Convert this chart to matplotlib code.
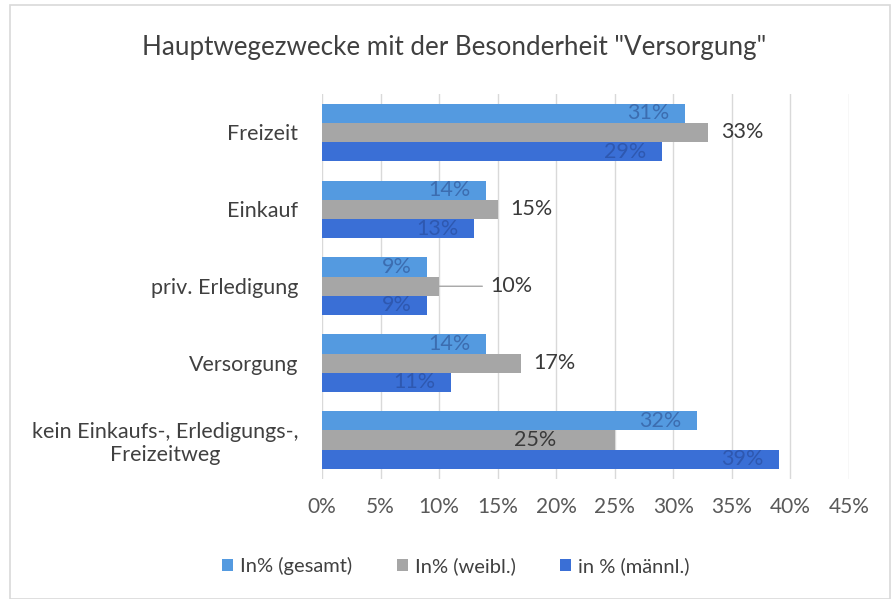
import matplotlib
matplotlib.use("Agg")
import matplotlib.pyplot as plt
from matplotlib.patches import Rectangle
import numpy as np

plt.rcParams['font.family'] = ['Lato', 'DejaVu Sans']

categories = ["Freizeit", "Einkauf", "priv. Erledigung", "Versorgung",
              "kein Einkaufs-, Erledigungs-,\nFreizeitweg"]
series_names = ["In% (gesamt)", "In% (weibl.)", "in % (männl.)"]
gesamt = [31, 14, 9, 14, 32]
weibl = [33, 15, 10, 17, 25]
maennl = [29, 13, 9, 11, 39]
xticks = [0, 5, 10, 15, 20, 25, 30, 35, 40, 45]

colors = ["#549ae0", "#a6a6a6", "#3a6fd6"]
label_colors = ["#3c6db0", "#3a3a3a", "#2e58b0"]

fig = plt.figure(figsize=(8.96, 5.99), dpi=100)
fig.patches.append(Rectangle((10/896, 0), 880/896, 1 - 5/599, transform=fig.transFigure,
                             fill=False, edgecolor="#d9d9d9", linewidth=1.2))
ax = fig.add_axes([322/896, 1 - 478.5/599, (849 - 322)/896, (478.5 - 94)/599])

y = np.arange(len(categories))
h = 0.25
data = [gesamt, weibl, maennl]
bars = []
for i, (vals, c) in enumerate(zip(data, colors)):
    b = ax.barh(y + (i - 1) * h, vals, height=h, color=c, label=series_names[i], zorder=3)
    bars.append(b)

ax.set_xlim(0, 45)
ax.set_ylim(len(categories) - 0.5, -0.5)
ax.set_xticks(xticks)
ax.set_xticklabels([f"{t}%" for t in xticks], fontsize=15, color="#595959")
ax.set_yticks(y)
ax.set_yticklabels(categories, fontsize=15.5, color="#404040", multialignment="center")
ax.tick_params(axis='both', length=0)
ax.tick_params(axis='x', pad=13)
ax.tick_params(axis='y', pad=17)
ax.grid(axis='x', color="#d9d9d9", linewidth=1, zorder=0)
for s in ax.spines.values():
    s.set_visible(False)

# labels: gesamt & maennl inside end
for i in (0, 2):
    for rect, v in zip(bars[i], data[i]):
        ax.annotate(f"{v}%", (v, rect.get_y() + rect.get_height() / 2),
                    xytext=(-11, 0), textcoords="offset points",
                    ha="right", va="center", fontsize=15.5, color=label_colors[i], zorder=4)

# weibl outside end, with manual adjustments
for k, (rect, v) in enumerate(zip(bars[1], weibl)):
    yc = rect.get_y() + rect.get_height() / 2
    if k == 2:
        ax.annotate(f"{v}%", (v, yc), xytext=(14.4, yc), textcoords="data",
                    ha="left", va="center", fontsize=15.5, color=label_colors[1],
                    arrowprops=dict(arrowstyle="-", color="#a6a6a6", lw=1,
                                    shrinkA=4, shrinkB=0), zorder=4)
    elif k == 4:
        ax.text(18.2, yc, f"{v}%", ha="center", va="center", fontsize=15.5,
                color=label_colors[1], zorder=4)
    else:
        ax.annotate(f"{v}%", (v, yc), xytext=(9, 0), textcoords="offset points",
                    ha="left", va="center", fontsize=15.5, color=label_colors[1], zorder=4)

fig.text(454/896, 1 - 47/599, 'Hauptwegezwecke mit der Besonderheit "Versorgung"',
         ha="center", va="center", fontsize=18.7, color="#404040")

leg = fig.legend(handles=bars, labels=series_names, loc="center",
                 bbox_to_anchor=(456/896, 1 - 566/599), ncol=3, frameon=False,
                 fontsize=14.5, handlelength=0.55, handleheight=0.55, handletextpad=0.35,
                 columnspacing=2.2, labelcolor="#404040")

fig.savefig("out.png", dpi=100)
